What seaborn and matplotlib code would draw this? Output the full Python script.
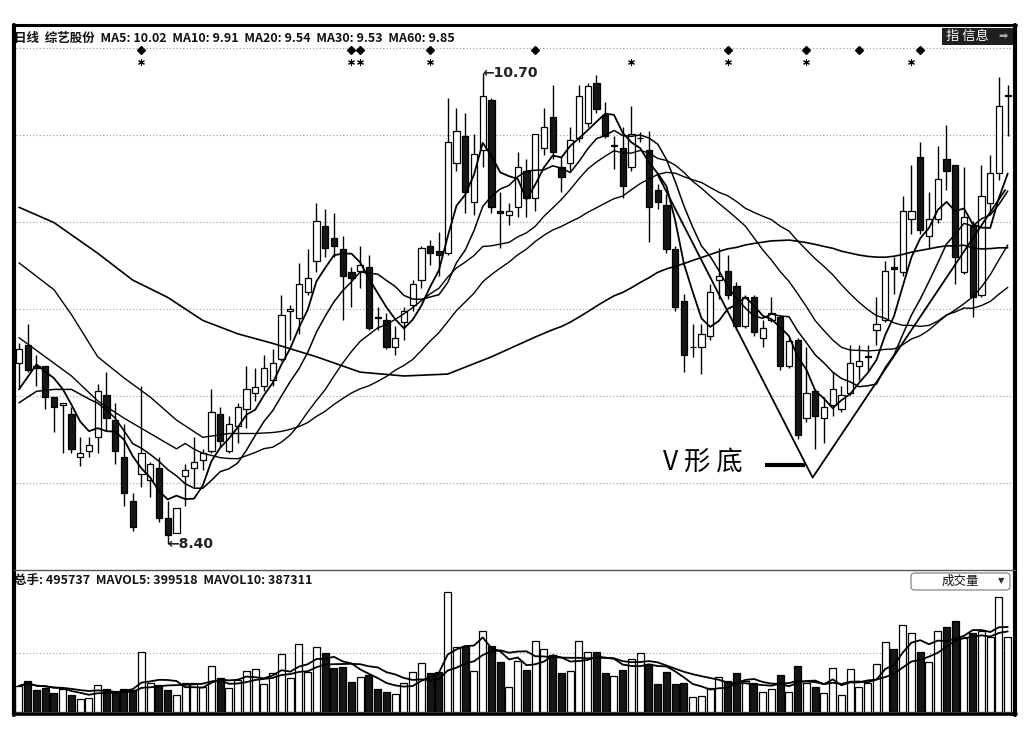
import numpy as np
import pandas as pd
import matplotlib
matplotlib.use("Agg")
import matplotlib.pyplot as plt
import matplotlib.transforms as mtransforms
from matplotlib.patches import Rectangle, FancyBboxPatch
import seaborn as sns

sns.set_theme(style="white")
plt.rcParams["font.family"] = ["Noto Sans CJK SC", "DejaVu Sans"]

# ==========================================================
# Data
# ==========================================================

opens = [9.31, 9.40, 9.29, 9.29, 9.13, 9.09, 9.04, 8.82, 8.85, 8.92,
         9.14, 9.01, 8.82, 8.59, 8.73, 8.70, 8.76, 8.50, 8.42, 8.72,
         8.76, 8.80, 8.85, 9.04, 8.85, 8.98, 9.07, 9.15, 9.19, 9.22,
         9.33, 9.58, 9.54, 9.68, 9.84, 10.02, 9.96, 9.90, 9.78, 9.79,
         9.81, 9.55, 9.53, 9.39, 9.52, 9.61, 9.74, 9.92, 9.89, 9.88,
         10.35, 10.49, 10.15, 10.42, 10.68, 10.10, 10.08, 10.12, 10.31, 10.17,
         10.43, 10.59, 10.33, 10.35, 10.48, 10.56, 10.77, 10.60, 10.44, 10.43,
         10.33, 10.48, 10.42, 10.21, 10.13, 9.90, 9.63, 9.39, 9.39, 9.45,
         9.74, 9.79, 9.71, 9.50, 9.65, 9.44, 9.53, 9.55, 9.29, 9.43,
         9.02, 9.16, 9.02, 9.09, 9.07, 9.15, 9.29, 9.34, 9.48, 9.53,
         9.81, 9.78, 10.06, 10.38, 9.97, 10.06, 10.37, 10.34, 9.78, 10.02,
         9.66, 10.14, 10.30, 10.70]

highs = [9.41, 9.51, 9.35, 9.29, 9.13, 9.10, 9.08, 8.92, 8.92, 9.20,
         9.26, 9.10, 8.99, 8.63, 9.19, 8.79, 8.82, 8.59, 8.55, 8.78,
         8.92, 8.86, 9.17, 9.08, 9.03, 9.10, 9.29, 9.28, 9.35, 9.38,
         9.66, 9.61, 9.83, 9.90, 10.14, 10.11, 10.09, 9.97, 9.81, 9.92,
         9.87, 9.60, 9.57, 9.50, 9.60, 9.74, 9.92, 9.95, 9.99, 10.69,
         10.64, 10.61, 10.50, 10.70, 10.69, 10.20, 10.14, 10.41, 10.37, 10.50,
         10.64, 10.76, 10.38, 10.54, 10.76, 10.77, 10.81, 10.67, 10.49, 10.54,
         10.65, 10.51, 10.52, 10.24, 10.19, 9.92, 9.67, 9.51, 9.51, 9.72,
         9.91, 9.87, 9.73, 9.66, 9.66, 9.53, 9.65, 9.56, 9.44, 9.44,
         9.39, 9.17, 9.13, 9.26, 9.19, 9.40, 9.40, 9.40, 9.65, 9.84,
         9.86, 10.18, 10.34, 10.46, 10.20, 10.44, 10.55, 10.34, 10.33, 10.05,
         10.34, 10.39, 10.80, 10.76]

lows = [9.18, 9.26, 9.19, 9.07, 8.95, 8.84, 8.84, 8.77, 8.82, 8.84,
        8.96, 8.78, 8.56, 8.43, 8.66, 8.61, 8.48, 8.40, 8.42, 8.56,
        8.66, 8.75, 8.84, 8.87, 8.84, 8.89, 8.97, 9.11, 9.16, 9.19,
        9.32, 9.43, 9.46, 9.66, 9.78, 9.86, 9.86, 9.53, 9.60, 9.70,
        9.48, 9.48, 9.38, 9.35, 9.43, 9.58, 9.70, 9.82, 9.76, 9.87,
        10.31, 10.09, 10.08, 10.33, 10.09, 9.91, 10.03, 10.07, 10.07, 10.10,
        10.39, 10.37, 10.20, 10.31, 10.46, 10.54, 10.61, 10.48, 10.32, 10.17,
        10.31, 10.46, 9.94, 10.11, 9.88, 9.58, 9.26, 9.34, 9.25, 9.43,
        9.64, 9.64, 9.48, 9.49, 9.45, 9.39, 9.52, 9.27, 9.28, 8.91,
        9.00, 8.86, 8.89, 9.03, 9.05, 9.14, 9.22, 9.27, 9.40, 9.52,
        9.67, 9.76, 9.98, 9.98, 9.91, 10.04, 10.21, 9.72, 9.77, 9.55,
        9.65, 10.09, 10.26, 10.49]

closes = [9.38, 9.27, 9.28, 9.13, 9.08, 9.10, 8.86, 8.84, 8.88, 9.16,
          9.02, 8.85, 8.63, 8.45, 8.84, 8.78, 8.50, 8.41, 8.55, 8.75,
          8.79, 8.84, 9.05, 8.90, 8.99, 9.08, 9.17, 9.18, 9.28, 9.31,
          9.56, 9.59, 9.72, 9.75, 10.05, 9.91, 9.92, 9.76, 9.75, 9.82,
          9.49, 9.54, 9.39, 9.44, 9.58, 9.72, 9.91, 9.88, 9.87, 10.46,
          10.52, 10.20, 10.40, 10.70, 10.12, 10.09, 10.10, 10.33, 10.17, 10.50,
          10.54, 10.41, 10.28, 10.47, 10.70, 10.75, 10.63, 10.49, 10.44, 10.23,
          10.50, 10.48, 10.12, 10.15, 9.90, 9.60, 9.35, 9.39, 9.46, 9.68,
          9.76, 9.66, 9.50, 9.65, 9.47, 9.49, 9.57, 9.29, 9.42, 8.93,
          9.15, 9.03, 9.08, 9.17, 9.14, 9.31, 9.32, 9.34, 9.51, 9.79,
          9.80, 10.10, 10.10, 10.00, 10.06, 10.27, 10.31, 9.86, 10.07, 9.65,
          10.18, 10.30, 10.65, 10.70]

# volume (hands)
volumes = [172000, 205000, 145000, 159000, 126000, 152000, 112000, 86000, 93000, 178000,
           152000, 126000, 152000, 145000, 397000, 192000, 178000, 145000, 112000, 192000,
           192000, 165000, 304000, 225000, 159000, 212000, 271000, 284000, 185000, 258000,
           383000, 225000, 449000, 264000, 430000, 390000, 291000, 297000, 198000, 231000,
           245000, 152000, 132000, 119000, 192000, 264000, 324000, 258000, 264000, 793000,
           430000, 436000, 271000, 535000, 436000, 330000, 165000, 337000, 278000, 469000,
           416000, 377000, 258000, 271000, 469000, 397000, 397000, 258000, 238000, 278000,
           350000, 390000, 317000, 185000, 264000, 185000, 192000, 99000, 106000, 159000,
           231000, 205000, 258000, 205000, 192000, 132000, 152000, 245000, 132000, 304000,
           192000, 165000, 126000, 291000, 112000, 284000, 165000, 192000, 317000, 463000,
           416000, 575000, 522000, 397000, 330000, 535000, 562000, 601000, 489000, 522000,
           535000, 496000, 760000, 496000]

# moving-average values before each window is full
ma5_lead_idx = [0, 2]
ma5_lead = [9.17, 9.30]
ma10_lead_idx = [0, 2, 4, 6, 8]
ma10_lead = [9.10, 9.16, 9.17, 9.17, 9.12]
ma20_lead_idx = [0, 3, 6, 9, 12, 15, 18]
ma20_lead = [9.44, 9.34, 9.24, 9.11, 9.02, 8.94, 8.86]
ma30_lead_idx = [0, 4, 6, 9, 12, 15, 18, 21, 24, 27]
ma30_lead = [9.83, 9.69, 9.56, 9.34, 9.23, 9.13, 9.01, 8.92, 8.94, 8.94]
ma60_lead_idx = [0, 4, 9, 13, 17, 21, 25, 29, 34, 39, 44, 49, 54]
ma60_lead = [10.12, 10.04, 9.88, 9.74, 9.65, 9.53, 9.46, 9.41, 9.34, 9.26, 9.24, 9.25, 9.34]

# signal marks along the top
diamond_idx = [14, 38, 39, 47, 59, 81, 90, 96, 103]
star_idx = [14, 38, 39, 47, 70, 81, 90, 102]

# hand-drawn V bottom
v_idx = [73.0, 90.7, 112.7]
v_price = [10.29, 8.71, 10.21]

high_label = "10.70"
low_label = "8.40"
header_main = "日线  综艺股份  MA5: 10.02  MA10: 9.91  MA20: 9.54  MA30: 9.53  MA60: 9.85"
header_vol = "总手: 495737  MAVOL5: 399518  MAVOL10: 387311"

# ==========================================================
# Layout helpers (pixel -> figure fraction)
# ==========================================================

W, H = 1030, 734


def fx(x):
    return x / W


def fy(y):
    return 1 - y / H


n = len(closes)
idx = np.arange(n)
df = pd.DataFrame({"open": opens, "high": highs, "low": lows,
                   "close": closes, "vol": volumes}, index=idx)
up = df["close"] >= df["open"]

fig = plt.figure(figsize=(W / 100, H / 100), dpi=100, facecolor="white")

ax = fig.add_axes([fx(16), fy(570), fx(1013) - fx(16), fy(28) - fy(570)])
axv = fig.add_axes([fx(16), fy(712), fx(1013) - fx(16), fy(570) - fy(712)])

xlim = (-0.34, 113.6)

# ==========================================================
# Price panel
# ==========================================================

for level in [10.95, 10.497, 10.043, 9.589, 9.135, 8.681]:
    ax.axhline(level, color="#9a9a9a", lw=0.8, ls=(0, (1, 2)), zorder=0)

ax.vlines(idx, df["low"], df["high"], color="black", lw=1.0, zorder=2)
body_bottom = np.minimum(df["open"], df["close"])
body_height = np.maximum((df["close"] - df["open"]).abs(), 0.003)
ax.bar(idx, body_height, bottom=body_bottom, width=0.72,
       color=np.where(up, "white", "#161616"), edgecolor="black",
       linewidth=0.9, zorder=3)


def ma_points(lead_idx, lead_val, window):
    rolled = df["close"].rolling(window).mean()
    xs = list(lead_idx) + list(idx[window - 1:])
    ys = list(lead_val) + list(rolled.iloc[window - 1:])
    return xs, ys


for lead_i, lead_v, win, lw in [(ma5_lead_idx, ma5_lead, 5, 1.3),
                                (ma10_lead_idx, ma10_lead, 10, 1.1),
                                (ma20_lead_idx, ma20_lead, 20, 1.0),
                                (ma30_lead_idx, ma30_lead, 30, 1.0),
                                (ma60_lead_idx, ma60_lead, 60, 1.2)]:
    xs, ys = ma_points(lead_i, lead_v, win)
    sns.lineplot(x=xs, y=ys, ax=ax, color="black", linewidth=lw,
                 estimator=None, sort=False, legend=False, zorder=4)

# V bottom annotation
ax.plot(v_idx, v_price, color="black", lw=1.3, zorder=5)
ax.plot([85.3, 89.8], [8.775, 8.775], color="black", lw=3, solid_capstyle="butt", zorder=5)
ax.text(78.2, 8.79, "V 形 底", fontsize=19, ha="center", va="center", color="black", zorder=6)

# high / low labels
hi_i = 53
lo_i = int(np.argmin(df["low"].values))
ax.vlines(hi_i, df["high"][hi_i], 10.82, color="black", lw=1)
ax.text(hi_i, 10.82, "←" + high_label, fontsize=10, ha="left", va="center",
        family=["DejaVu Sans"], fontweight="bold", color="#222222")
ax.vlines(lo_i, df["low"][lo_i], 8.363, color="black", lw=1)
ax.text(lo_i, 8.363, "←" + low_label, fontsize=10, ha="left", va="center",
        family=["DejaVu Sans"], fontweight="bold", color="#222222")

# signal marks
trans = mtransforms.blended_transform_factory(ax.transData, ax.transAxes)
ax.scatter(diamond_idx, [0.9594] * len(diamond_idx), marker="D", s=16,
           color="black", transform=trans, zorder=6)
ax.scatter(star_idx, [0.9373] * len(star_idx), marker=(6, 2, 0), s=18,
           color="black", linewidths=0.8, transform=trans, zorder=6)

ax.set_xlim(*xlim)
ax.set_ylim(8.228, 11.055)
ax.set_xticks([])
ax.set_yticks([])
for s in ax.spines.values():
    s.set_visible(False)

# ==========================================================
# Volume panel
# ==========================================================

axv.axhline(390000, color="#9a9a9a", lw=0.8, ls=(0, (1, 2)), zorder=0)
axv.bar(idx, df["vol"], width=0.8, color=np.where(up, "white", "#161616"),
        edgecolor="black", linewidth=0.9, zorder=2)
for win, lw in [(5, 1.3), (10, 1.3)]:
    mv = df["vol"].rolling(win, min_periods=1).mean()
    sns.lineplot(x=idx, y=mv.values, ax=axv, color="black", linewidth=lw,
                 estimator=None, legend=False, zorder=3)
axv.set_xlim(*xlim)
axv.set_ylim(0, 938620)
axv.set_xticks([])
axv.set_yticks([])
for s in axv.spines.values():
    s.set_visible(False)

# ==========================================================
# Frame, headers, buttons
# ==========================================================


def fline(x0, y0, x1, y1, lw, color="black"):
    fig.add_artist(plt.Line2D([fx(x0), fx(x1)], [fy(y0), fy(y1)], color=color,
                              lw=lw, transform=fig.transFigure, zorder=10))


fline(14, 25, 1016, 25, 2.2)
fline(14, 25, 14, 715, 3.0)
fline(1015, 25, 1015, 715, 3.0)
fline(14, 714, 1016, 714, 2.6)
fline(14, 570, 1015, 570, 1.0, "#555555")

fig.text(fx(14), fy(38), header_main, fontsize=9, fontweight="bold",
         ha="left", va="center", color="#111111")
fig.text(fx(14), fy(580), header_vol, fontsize=9, fontweight="bold",
         ha="left", va="center", color="#111111")

fig.add_artist(Rectangle((fx(942), fy(45)), fx(1013) - fx(942), fy(28) - fy(45),
                         transform=fig.transFigure, facecolor="#202020",
                         edgecolor="none", zorder=11))
fig.text(fx(946), fy(36.5), "指 信息", fontsize=9.5, color="white",
         ha="left", va="center", zorder=12)
fig.text(fx(1003), fy(36.5), "➡", fontsize=8, color="#aaaaaa",
         family=["DejaVu Sans"], ha="center", va="center", zorder=12)

fig.add_artist(FancyBboxPatch((fx(911), fy(590)), fx(1010) - fx(911), fy(573) - fy(590),
                              boxstyle="round,pad=0,rounding_size=0.004",
                              transform=fig.transFigure, facecolor="white",
                              edgecolor="#777777", lw=0.8, zorder=11))
fig.text(fx(960), fy(581), "成交量", fontsize=9, color="#111111",
         ha="center", va="center", zorder=12)
fig.text(fx(1001), fy(581), "▼", fontsize=6, color="#333333",
         family=["DejaVu Sans"], ha="center", va="center", zorder=12)

fig.savefig("out.png", dpi=100, facecolor="white")
